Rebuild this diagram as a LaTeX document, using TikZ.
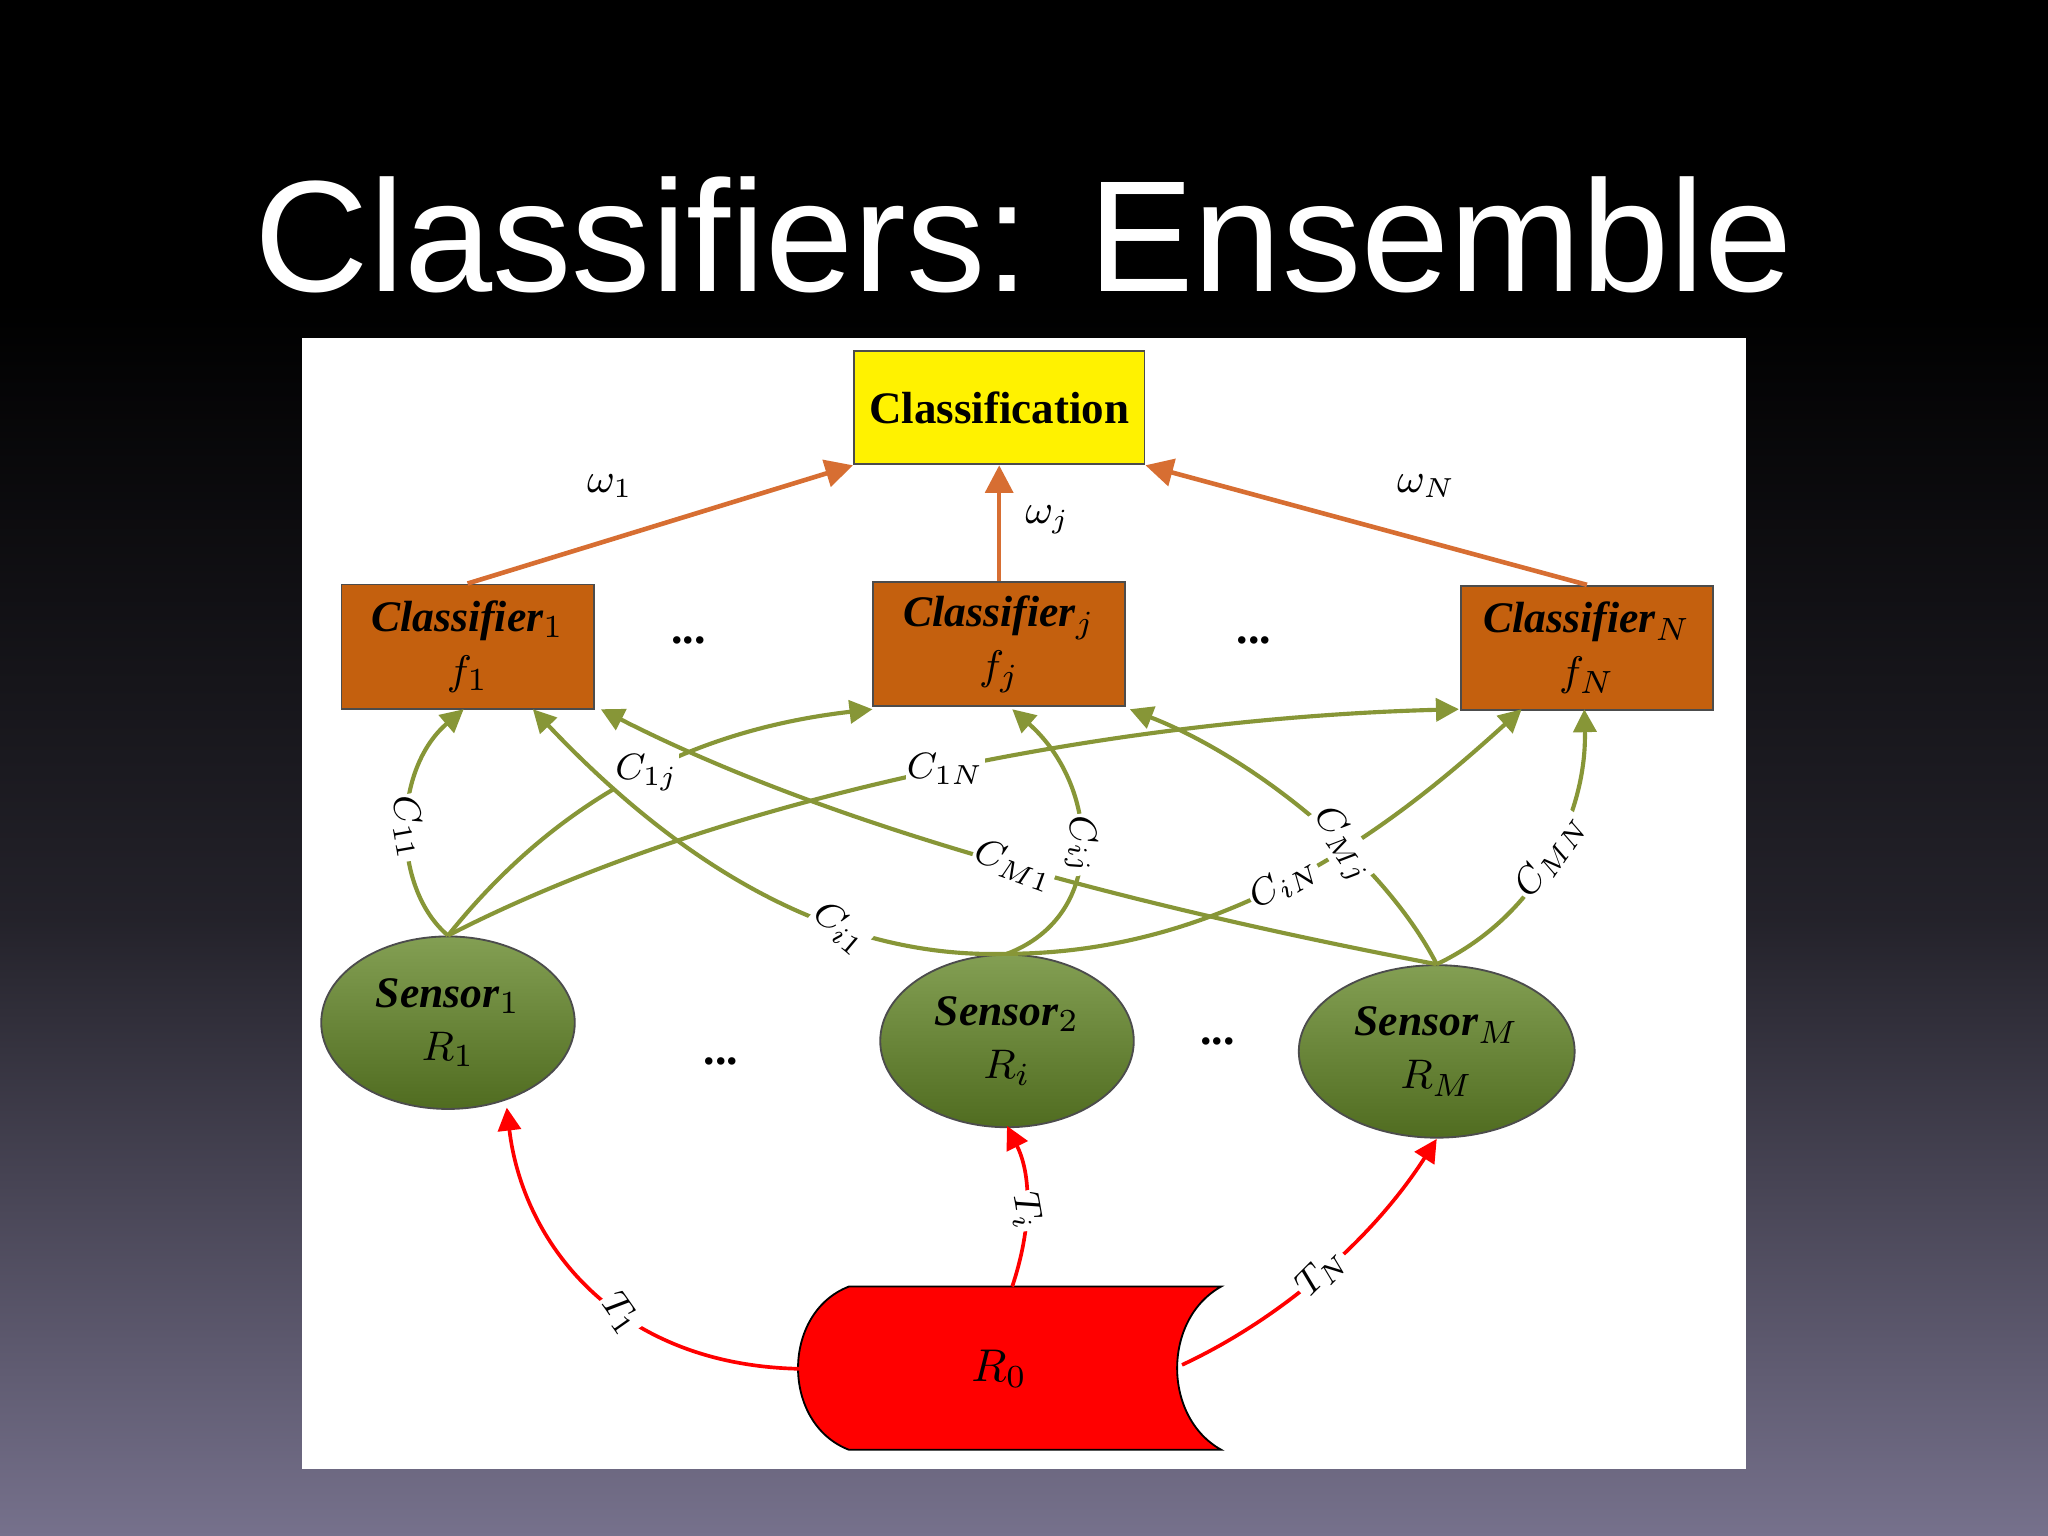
\documentclass[tikz,border=0pt]{standalone}
\usepackage{fontspec}
\setmainfont{Liberation Serif}
\newfontfamily\titlefont{Liberation Sans}
\usetikzlibrary{arrows.meta,shapes.geometric,calc}
\definecolor{olv}{RGB}{135,150,55}
\definecolor{brn}{RGB}{196,96,14}
\definecolor{org}{RGB}{215,110,50}
\definecolor{grn}{RGB}{100,135,40}
\definecolor{bgb}{RGB}{118,113,140}
\begin{document}
\begin{tikzpicture}[x=0.01cm,y=-0.01cm,
 cls/.style={draw=black!70,fill=brn,minimum width=1.93cm,minimum height=0.95cm,font=\fontsize{9.5}{11.5}\selectfont\bfseries\itshape,align=center,inner sep=1pt},
 sen/.style={ellipse,draw=black!70,top color=grn!80!white,bottom color=grn!80!black,minimum width=1.94cm,minimum height=1.32cm,font=\fontsize{9.5}{11.5}\selectfont\bfseries\itshape,align=center},
 ga/.style={draw=olv,line width=0.9pt,-{Triangle[length=5pt,width=5pt]}},
 oa/.style={draw=org,line width=1pt,-{Triangle[length=6pt,width=6pt]}},
 ra/.style={draw=red,line width=0.8pt,-{Triangle[length=5pt,width=5pt]}},
 lb/.style={fill=white,inner sep=0.3pt,font=\fontsize{8}{9}\selectfont\bfseries\itshape},
 wl/.style={font=\fontsize{9}{10}\selectfont\bfseries\itshape},
 dots/.style={font=\bfseries}]
\useasboundingbox (0,0) rectangle (1568,1176);
\shade[top color=black,bottom color=bgb,middle color=black!70!bgb] (0,230) rectangle (1568,1176);
\fill[black] (0,0) rectangle (1568,232);
\node[text=white,font=\titlefont\fontsize{34.5}{38}\selectfont] (title) at (784,180) {Classifiers: Ensemble};
\fill[white] (231,259) rectangle (1337,1125);

\node[draw=black!70,fill=yellow,minimum width=2.15cm,minimum height=0.87cm,font=\fontsize{9.8}{11}\selectfont\bfseries] (cl) at (765,312) {Classification};
\node[cls] (c1) at (358,495) {Classifier$_1$\\$f_1$};
\node[cls] (cj) at (765,493) {Classifier$_j$\\$f_j$};
\node[cls] (cn) at (1215,496) {Classifier$_N$\\$f_N$};
\node[sen] (s1) at (343,783) {Sensor$_1$\\$R_1$};
\node[sen] (s2) at (771,797) {Sensor$_2$\\$R_i$};
\node[sen] (sm) at (1100,805) {Sensor$_M$\\$R_M$};
\node[dots] (d1) at (527,490) {...};
\node[dots] (d2) at (960,490) {...};
\node[dots] (d3) at (552,813) {...};
\node[dots] (d4) at (932,797) {...};

% cylinder
\draw[fill=red,draw=black] (650,985) -- (935,985) .. controls (890,1010) and (890,1085) .. (935,1110) -- (650,1110) .. controls (598,1090) and (598,1005) .. (650,985) -- cycle;
\node[font=\fontsize{10}{12}\selectfont\bfseries\itshape] (r0) at (765,1048) {$R_0$};
\coordinate (r0l) at (612,1048);
\coordinate (r0t) at (775,985);
\coordinate (r0r) at (905,1045);

% orange
\draw[oa] (c1.north) -- (cl.south west);
\draw[oa] (cj.north) -- (cl.south);
\draw[oa] (cn.north) -- (cl.south east);
\node[wl] (w1) at (467,372) {$\omega_1$};
\node[wl] (wj) at (802,398) {$\omega_j$};
\node[wl] (wn) at (1092,372) {$\omega_N$};

% green
\draw[ga] (s1.north) .. controls (300,680) and (300,590) .. (355,543) node[lb,pos=0.5,rotate=-80]{$C_{11}$};
\draw[ga] (s1.north) .. controls (420,620) and (520,560) .. (668,543) node[lb,pos=0.55]{$C_{1j}$};
\draw[ga] (s1.north) .. controls (550,610) and (850,550) .. (1117,543) node[lb,pos=0.52]{$C_{1N}$};
\draw[ga] (s2.north) .. controls (620,735) and (500,640) .. (408,543) node[lb,pos=0.3,rotate=-40]{$C_{i1}$};
\draw[ga] (s2.north) .. controls (850,700) and (840,600) .. (775,543) node[lb,pos=0.5,rotate=-80]{$C_{ij}$};
\draw[ga] (s2.north) .. controls (950,730) and (1080,620) .. (1165,543) node[lb,pos=0.45,rotate=30]{$C_{iN}$};
\draw[ga] (sm.north) .. controls (900,700) and (650,640) .. (460,543) node[lb,pos=0.5,rotate=-20]{$C_{M1}$};
\draw[ga] (sm.north) .. controls (1060,660) and (960,580) .. (865,543) node[lb,pos=0.4,rotate=-55]{$C_{Mj}$};
\draw[ga] (sm.north) .. controls (1180,700) and (1215,620) .. (1213,543) node[lb,pos=0.5,rotate=55]{$C_{MN}$};

% red
\draw[ra] (r0l) .. controls (470,1045) and (400,950) .. (388,848) node[lb,pos=0.4,rotate=-55]{$T_1$};
\draw[ra] (r0t) .. controls (790,940) and (790,900) .. (771,862) node[lb,pos=0.45,rotate=-80]{$T_i$};
\draw[ra] (r0r) .. controls (980,1010) and (1050,950) .. (1100,872) node[lb,pos=0.5,rotate=45]{$T_N$};
\end{tikzpicture}
\end{document}
